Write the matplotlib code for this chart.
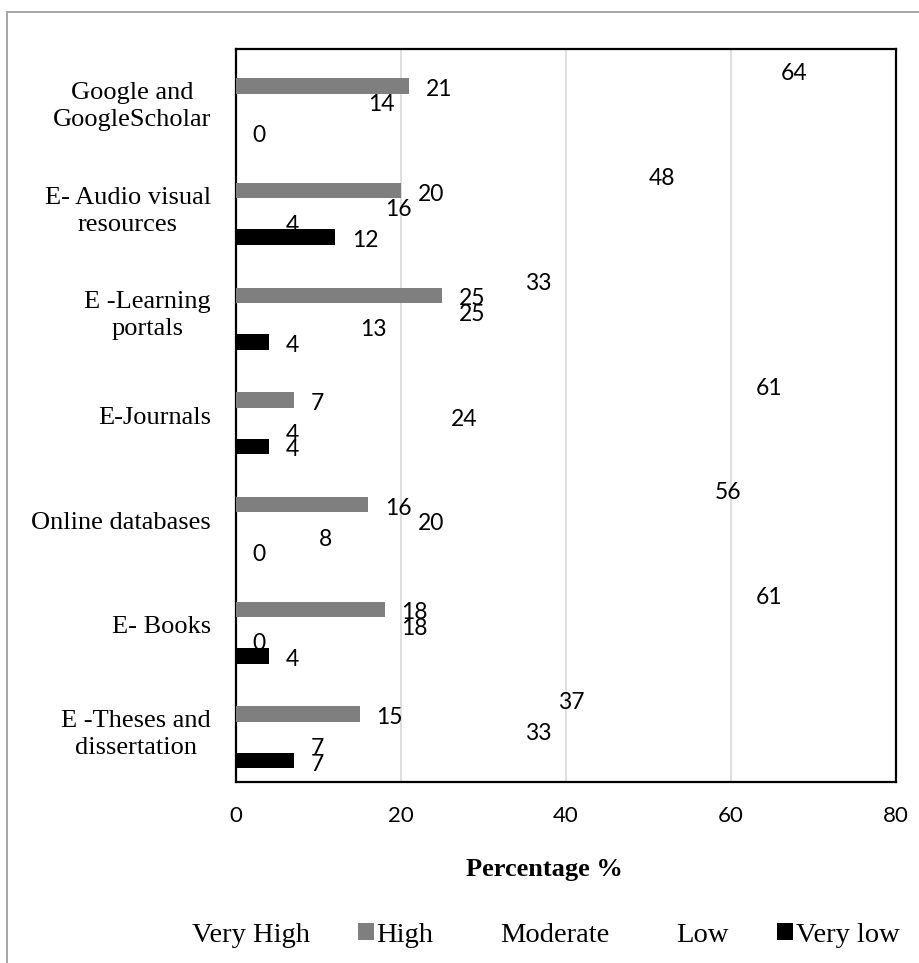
import numpy as np
import matplotlib
matplotlib.use('Agg')
import matplotlib.pyplot as plt
from matplotlib.patches import Rectangle, Patch

# survey categories, listed top to bottom
categories = ['Google and\nGoogleScholar', 'E- Audio visual\nresources', 'E -Learning\nportals',
              'E-Journals', 'Online databases', 'E- Books', 'E -Theses and\ndissertation']
series_names = ['Very High', 'High', 'Moderate', 'Low', 'Very low']

# percentages per rating level (nan = no answer recorded)
very_high = [64, 48, 33, 61, 56, 61, 37]
high = [21, 20, 25, 7, 16, 18, 15]
moderate = [14, 16, 25, 24, 20, 18, 33]
low = [np.nan, 4, 13, 4, 8, 0, 7]
very_low = [0, 12, 4, 4, 0, 4, 7]

x_ticks = [0, 20, 40, 60, 80]

# only High and Very low carry a fill, the rest are left empty
fills = ['none', '#7f7f7f', 'none', 'none', '#000000']

SERIF = 'Liberation Serif'
SANS = 'Lato'


def main():
    data = [very_high, high, moderate, low, very_low]

    fig = plt.figure(figsize=(9.2, 9.63), dpi=100)
    ax = fig.add_axes([0.2565, 0.188, 0.7175, 0.761])

    # grey outer frame of the chart area
    fig.patches.append(Rectangle((7 / 920, -0.2), 1.2, 1.2 - 12 / 963,
                                 transform=fig.transFigure, fill=False,
                                 edgecolor='#a6a6a6', linewidth=1.4))

    y = np.arange(len(categories))
    h = 0.148
    for j, vals in enumerate(data):
        vals = np.array(vals, dtype=float)
        yy = y + (j - 2) * h
        ax.barh(yy, vals, height=h, color=fills[j], edgecolor='none', zorder=3)
        for v, yv in zip(vals, yy):
            if np.isnan(v):
                continue
            ax.annotate('%d' % v, (v, yv), xytext=(12, -2.5), textcoords='offset points',
                        ha='left', va='center', fontsize=16.5, fontfamily=SANS)

    ax.set_xlim(0, 80)
    ax.set_ylim(len(categories) - 0.5, -0.5)
    ax.set_xticks(x_ticks)
    ax.set_xticklabels([str(t) for t in x_ticks], fontsize=16, fontfamily=SANS)
    ax.set_yticks(y)
    ax.set_yticklabels(categories, fontsize=19, fontfamily=SERIF,
                       multialignment='center', linespacing=1.3)
    ax.tick_params(axis='x', length=0, pad=17)
    ax.tick_params(axis='y', length=0, pad=18)

    ax.grid(axis='x', color='#d9d9d9', linewidth=1.2, zorder=0)
    ax.set_axisbelow(True)
    for s in ax.spines.values():
        s.set_color('#000000')
        s.set_linewidth(1.6)

    ax.set_xlabel('Percentage %', fontsize=19, fontfamily=SERIF, fontweight='bold')
    ax.xaxis.set_label_coords(0.468, -0.104)

    handles = [Patch(facecolor=c, edgecolor='none') for c in fills]
    fig.legend(handles, series_names, loc='center', bbox_to_anchor=(0.583, 0.029),
               ncol=5, frameon=False, prop={'family': SERIF, 'size': 20.5},
               handlelength=0.55, handleheight=0.55, handletextpad=0.1,
               columnspacing=1.7)

    fig.savefig('out.png', dpi=100, facecolor='white')


if __name__ == "__main__":
    main()
